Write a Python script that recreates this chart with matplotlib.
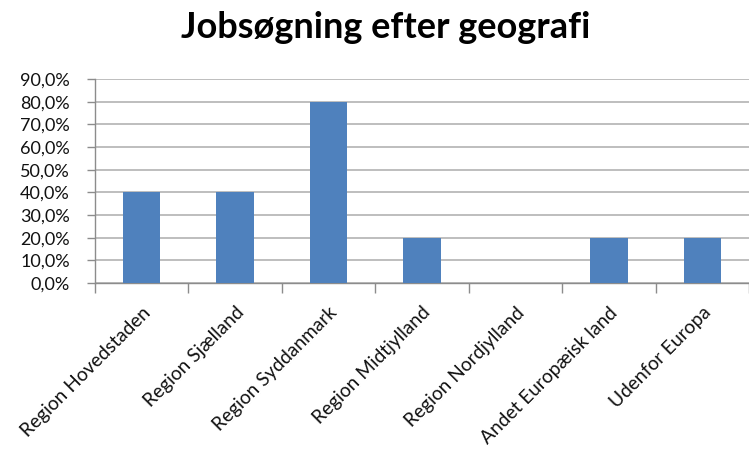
import matplotlib.pyplot as plt
from matplotlib.ticker import FuncFormatter, MultipleLocator
import numpy as np

# Data
categories = ["Region Hovedstaden", "Region Sjælland", "Region Syddanmark",
              "Region Midtjylland", "Region Nordjylland", "Andet Europæisk land",
              "Udenfor Europa"]
shares = [0.40, 0.40, 0.80, 0.20, 0.0, 0.20, 0.20]

BAR_COLOR = "#4F81BD"
GRID_COLOR = "#B3B3B3"

plt.rcParams['font.family'] = ['Lato', 'DejaVu Sans']

fig = plt.figure(figsize=(7.49, 4.54), dpi=100)
# axes in pixel coords: left 95, right 749, top 79, bottom 283
ax = fig.add_axes([95 / 749, 1 - 283 / 454, (749 - 95) / 749, (283 - 79) / 454])

x = np.arange(len(categories))
ax.bar(x, shares, width=0.4, color=BAR_COLOR, zorder=3)

ax.set_xlim(-0.5, len(categories) - 0.5)
ax.set_ylim(0, 0.9)
ax.yaxis.set_major_locator(MultipleLocator(0.1))
ax.yaxis.set_major_formatter(FuncFormatter(lambda v, p: f"{v * 100:.1f}%".replace(".", ",")))
ax.grid(axis="y", color=GRID_COLOR, linewidth=1.2, zorder=0)

# ticks between categories
ax.set_xticks(np.arange(-0.5, len(categories) + 0.5, 1.0))
ax.set_xticklabels([])
ax.set_xticks(x, minor=True)
ax.set_xticklabels(categories, minor=True, rotation=45, ha="right",
                   rotation_mode="anchor", fontsize=13.8, color="#111111")
ax.tick_params(axis="x", which="minor", length=0, pad=15)
ax.tick_params(axis="x", which="major", length=7, color="#8c8c8c", width=1)
ax.tick_params(axis="y", length=6, color="#8c8c8c", width=1, labelsize=13,
               labelcolor="#111111", pad=12)

for side in ["top", "right"]:
    ax.spines[side].set_visible(False)
for side in ["left", "bottom"]:
    ax.spines[side].set_color("#8c8c8c")
    ax.spines[side].set_linewidth(1)

fig.text(0.515, 0.94, "Jobsøgning efter geografi", ha="center", va="center",
         fontsize=26, fontweight="bold", color="black")

fig.savefig("out.png", dpi=100)
